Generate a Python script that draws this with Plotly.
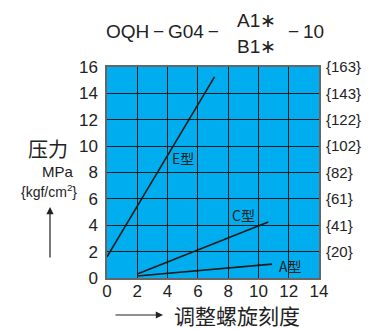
import plotly.graph_objects as go

# ---- data ----
e_x = [0, 7.1]
e_y = [1.6, 15.25]
c_x = [2, 10.65]
c_y = [0.3, 4.25]
a_x = [2, 10.9]
a_y = [0.15, 1.05]
series_labels = ["E型", "C型", "A型"]
label_pos_x = [5.0, 9.0, 12.1]
label_pos_y = [9.1, 4.8, 0.9]
x_ticks = [0, 2, 4, 6, 8, 10, 12, 14]
y_ticks = [2, 4, 6, 8, 10, 12, 14, 16]
y_ticks_left = [0, 2, 4, 6, 8, 10, 12, 14, 16]
kgf_labels = ["{20}", "{41}", "{61}", "{82}", "{102}", "{122}", "{143}", "{163}"]

W, H = 384, 329
L, R, T, B = 107, 319, 67, 278


def px(xp):
    return (xp - L) / (R - L)


def py(yp):
    return (B - yp) / (B - T)


LAT = "Liberation Sans, Arial, sans-serif"
CJK = "Noto Sans CJK SC, sans-serif"

fig = go.Figure()
for xs, ys in [(e_x, e_y), (c_x, c_y), (a_x, a_y)]:
    fig.add_trace(go.Scatter(x=xs, y=ys, mode="lines",
                             line=dict(color="#1a1a1a", width=1.6),
                             showlegend=False, hoverinfo="skip"))
# invisible trace for second axis
fig.add_trace(go.Scatter(x=[0], y=[0], yaxis="y2", mode="markers",
                         marker=dict(opacity=0), showlegend=False, hoverinfo="skip"))

annotations = []
for t, lx, ly in zip(series_labels, label_pos_x, label_pos_y):
    annotations.append(dict(x=lx, y=ly, xref="x", yref="y", text=t, showarrow=False,
                            xanchor="center", yanchor="middle",
                            font=dict(family=CJK, size=14, color="#222")))

# title pieces
tf = dict(family=LAT, size=19, color="#222")
annotations += [
    dict(x=px(104), y=py(32), xref="paper", yref="paper", text="OQH\u2009−\u2009G04\u2009−",
         xanchor="left", yanchor="middle", showarrow=False, font=tf),
    dict(x=px(256), y=py(21), xref="paper", yref="paper", text="A1∗",
         xanchor="center", yanchor="middle", showarrow=False, font=tf),
    dict(x=px(256), y=py(47), xref="paper", yref="paper", text="B1∗",
         xanchor="center", yanchor="middle", showarrow=False, font=tf),
    dict(x=px(286), y=py(32), xref="paper", yref="paper", text="−\u200910",
         xanchor="left", yanchor="middle", showarrow=False, font=tf),
]

# y-axis label
annotations += [
    dict(x=px(48), y=py(148), xref="paper", yref="paper", text="压力",
         xanchor="center", yanchor="middle",
         showarrow=False, font=dict(family=CJK, size=20, color="#222")),
    dict(x=px(57.5), y=py(171), xref="paper", yref="paper", text="MPa",
         xanchor="center", yanchor="middle",
         showarrow=False, font=dict(family=LAT, size=15, color="#222")),
    dict(x=px(49), y=py(191), xref="paper", yref="paper", text="{kgf/cm<sup>2</sup>}",
         xanchor="center", yanchor="middle",
         showarrow=False, font=dict(family=LAT, size=14, color="#222")),
    dict(x=px(50), y=py(207), xref="paper", yref="paper", ax=0, ay=52,
         text="", showarrow=True,
         arrowhead=2, arrowsize=1.2, arrowwidth=1.2, arrowcolor="#222"),
    # x-axis label
    dict(x=px(163), y=py(315), xref="paper", yref="paper", ax=-49, ay=0,
         text="", showarrow=True,
         arrowhead=2, arrowsize=1.2, arrowwidth=1.2, arrowcolor="#222"),
    dict(x=px(172), y=py(315), xref="paper", yref="paper", text="调整螺旋刻度",
         xanchor="left", yanchor="middle", showarrow=False,
         font=dict(family=CJK, size=21, color="#222")),
]

fig.update_layout(
    width=W, height=H,
    margin=dict(l=L, r=W - R, t=T, b=H - B, pad=0),
    paper_bgcolor="white",
    plot_bgcolor="#00AEEF",
    showlegend=False,
    annotations=annotations,
    xaxis=dict(range=[0, 14], tickvals=x_ticks, ticks="", showgrid=True,
               gridcolor="#1a1a1a", gridwidth=1, zeroline=False, automargin=False,
               showline=True, linecolor="#666", linewidth=1.5, mirror=True,
               tickfont=dict(family=LAT, size=17, color="#222"), ticklabelstandoff=-3),
    yaxis=dict(range=[0, 16], tickvals=y_ticks_left, ticks="", showgrid=True,
               gridcolor="#1a1a1a", gridwidth=1, zeroline=False, automargin=False,
               showline=True, linecolor="#666", linewidth=1.5, mirror=True,
               tickfont=dict(family=LAT, size=17, color="#222"), ticklabelstandoff=4),
    yaxis2=dict(range=[0, 16], overlaying="y", side="right", tickvals=y_ticks,
                ticktext=kgf_labels, ticks="", showgrid=False, zeroline=False,
                showline=False, automargin=False,
                tickfont=dict(family=LAT, size=15, color="#222"),
                ticklabelstandoff=6),
)

fig.write_html("out.html", config={"displayModeBar": False},
               post_script="document.body.style.margin='0';document.body.style.overflow='hidden';")
